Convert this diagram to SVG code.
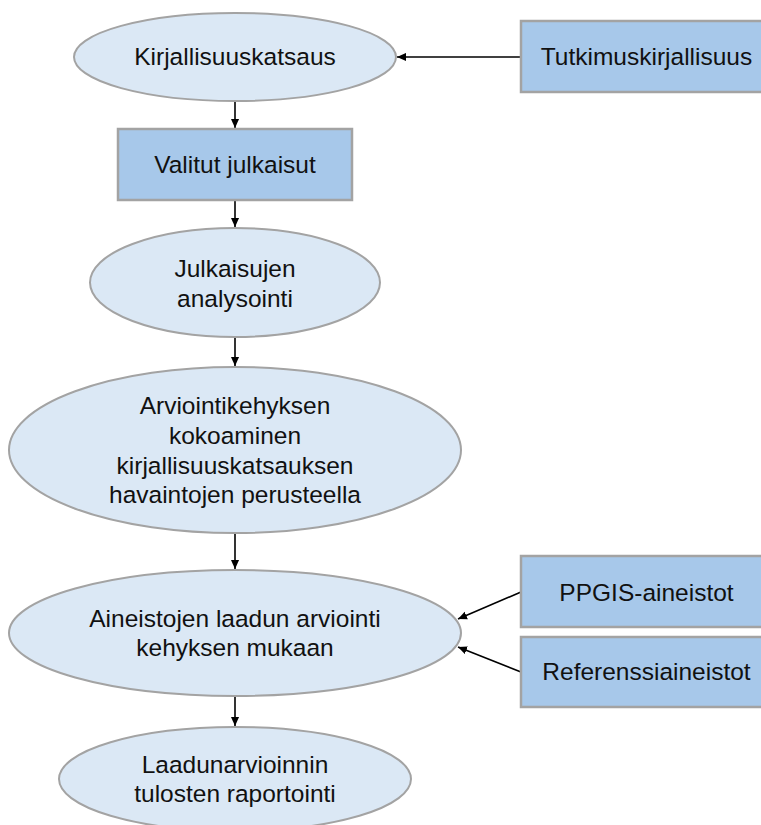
<svg xmlns="http://www.w3.org/2000/svg" width="761" height="825" viewBox="0 0 761 825">
<style>
.ell{fill:#dbe8f5;stroke:#a3a3a3;stroke-width:2}
.box{fill:#a7c8ea;stroke:#a3a3a3;stroke-width:2.5}
.t{font-family:"Liberation Sans",Arial,sans-serif;font-size:24.5px;fill:#111;text-anchor:middle}
.c{stroke:#000;stroke-width:1.6;fill:none;marker-end:url(#ah)}
</style>
<defs>
<marker id="ah" viewBox="0 0 10 10" refX="10" refY="5" markerWidth="9" markerHeight="9" markerUnits="userSpaceOnUse" orient="auto">
<path d="M0,0.5 L10,5 L0,9.5 Z" fill="#000"/>
</marker>
</defs>
<rect width="761" height="825" fill="#fff"/>
<g id="connectors">
<line class="c" x1="521" y1="57" x2="397" y2="57"/>
<line class="c" x1="235" y1="101" x2="235" y2="128"/>
<line class="c" x1="235" y1="200" x2="235" y2="227"/>
<line class="c" x1="235" y1="337" x2="235" y2="366"/>
<line class="c" x1="235" y1="533" x2="235" y2="569"/>
<line class="c" x1="521" y1="592" x2="458" y2="619"/>
<line class="c" x1="521" y1="672" x2="458" y2="647"/>
<line class="c" x1="235" y1="696" x2="235" y2="726"/>
</g>
<g id="kirjallisuuskatsaus">
<ellipse class="ell" cx="235" cy="57" rx="161" ry="44"/>
<text class="t" x="235" y="65">Kirjallisuuskatsaus</text>
</g>
<g id="tutkimuskirjallisuus">
<rect class="box" x="521" y="21" width="252" height="71"/>
<text class="t" x="646.5" y="65">Tutkimuskirjallisuus</text>
</g>
<g id="valitut">
<rect class="box" x="118" y="129" width="234" height="71"/>
<text class="t" x="235" y="173">Valitut julkaisut</text>
</g>
<g id="analysointi">
<ellipse class="ell" cx="235" cy="282.5" rx="145" ry="54.5"/>
<text class="t" x="235" y="277">Julkaisujen</text>
<text class="t" x="235" y="307">analysointi</text>
</g>
<g id="arviointikehys">
<ellipse class="ell" cx="235" cy="450" rx="226" ry="83"/>
<text class="t" x="235" y="414">Arviointikehyksen</text>
<text class="t" x="235" y="444">kokoaminen</text>
<text class="t" x="235" y="474">kirjallisuuskatsauksen</text>
<text class="t" x="235" y="503">havaintojen perusteella</text>
</g>
<g id="laadunarviointi">
<ellipse class="ell" cx="235" cy="633" rx="226" ry="63"/>
<text class="t" x="235" y="627">Aineistojen laadun arviointi</text>
<text class="t" x="235" y="656">kehyksen mukaan</text>
</g>
<g id="ppgis">
<rect class="box" x="521" y="556" width="252" height="71"/>
<text class="t" x="646.5" y="601">PPGIS-aineistot</text>
</g>
<g id="referenssi">
<rect class="box" x="521" y="637" width="252" height="70"/>
<text class="t" x="646.5" y="680">Referenssiaineistot</text>
</g>
<g id="raportointi">
<ellipse class="ell" cx="235" cy="779" rx="176" ry="52"/>
<text class="t" x="235" y="773">Laadunarvioinnin</text>
<text class="t" x="235" y="802">tulosten raportointi</text>
</g>
</svg>
